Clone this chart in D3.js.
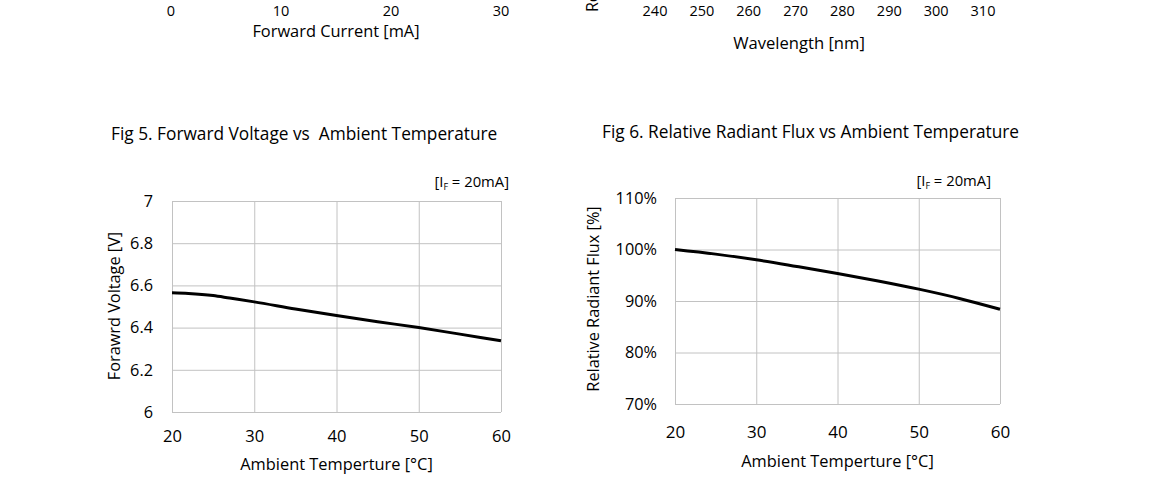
<!DOCTYPE html>
<html>
<head>
<meta charset="utf-8">
<script src="https://cdn.jsdelivr.net/npm/d3@7"></script>
<style>
  body { margin: 0; background: #fff; }
  svg { display: block; font-family: "Open Sans", "Noto Sans", sans-serif; fill: #000; }
  .grid line { stroke: #c2c2c2; stroke-width: 1; }
  .grid .domain { display: none; }
  .tick text { fill: #000; }
</style>
</head>
<body>
<div id="chart"></div>
<script>
// --- data ---
// Fig 5: forward voltage vs ambient temperature
const tempFig5 = [20, 22, 25, 27, 30, 35, 40, 45, 50, 55, 60];
const vfFig5 = [6.565, 6.562, 6.552, 6.54, 6.522, 6.488, 6.457, 6.428, 6.40, 6.369, 6.338];

// Fig 6: relative radiant flux vs ambient temperature
const tempFig6 = [20, 25, 30, 35, 40, 45, 50, 55, 60];
const fluxFig6 = [1.0, 0.991, 0.98, 0.967, 0.9535, 0.939, 0.923, 0.905, 0.884];

// tick labels
const tempTicks = [20, 30, 40, 50, 60];
const vfTicks = [6, 6.2, 6.4, 6.6, 6.8, 7];
const fluxTicks = [0.7, 0.8, 0.9, 1.0, 1.1];

// cut-off axes of the two charts above (only their tick labels are in view)
const currentTicks = [0, 10, 20, 30];
const wavelengthTicks = [240, 250, 260, 270, 280, 290, 300, 310];

const W = 1150, H = 496;

const svg = d3.select("#chart").append("svg")
  .attr("width", W)
  .attr("height", H);

// Helper: one panel with grid, axes, curve and labels
function drawPanel(cfg) {
  const x = d3.scaleLinear().domain(cfg.xDomain).range([cfg.left, cfg.right]);
  const y = d3.scaleLinear().domain(cfg.yDomain).range([cfg.bottom, cfg.top]);
  const g = svg.append("g");

  // vertical grid + x labels
  const xAxis = g.append("g")
    .attr("class", "grid")
    .attr("transform", `translate(0,${cfg.bottom})`)
    .call(d3.axisBottom(x).tickValues(cfg.xTicks)
      .tickSize(-(cfg.bottom - cfg.top)).tickPadding(cfg.xPad))
    .attr("font-family", null);
  xAxis.selectAll("text").style("font-size", cfg.xFont + "px");

  // horizontal grid + y labels
  const yAxis = g.append("g")
    .attr("class", "grid")
    .attr("transform", `translate(${cfg.left},0)`)
    .call(d3.axisLeft(y).tickValues(cfg.yTicks).tickFormat(cfg.yFormat)
      .tickSize(-(cfg.right - cfg.left)).tickPadding(cfg.yPad))
    .attr("font-family", null);
  yAxis.selectAll("text").style("font-size", cfg.yFont + "px");

  // curve
  g.append("path")
    .datum(d3.zip(cfg.xs, cfg.ys))
    .attr("fill", "none")
    .attr("stroke", "#000")
    .attr("stroke-width", 3)
    .attr("d", d3.line()
      .x(d => x(d[0]))
      .y(d => y(d[1]))
      .curve(d3.curveMonotoneX));

  // title
  g.append("text")
    .attr("x", cfg.titleX).attr("y", cfg.titleY)
    .style("font-size", "17.3px")
    .text(cfg.title);

  // condition label [IF = 20mA]
  const cond = g.append("text")
    .attr("x", cfg.condX).attr("y", cfg.condY)
    .attr("text-anchor", "end")
    .style("font-size", "14.8px");
  cond.append("tspan").text("[I");
  cond.append("tspan").attr("dy", 3).style("font-size", "9px").text("F");
  cond.append("tspan").attr("dy", -3).text(" = 20mA]");

  // x title
  g.append("text")
    .attr("x", (cfg.left + cfg.right) / 2).attr("y", cfg.xTitleY)
    .attr("text-anchor", "middle")
    .style("font-size", "16.4px")
    .text(cfg.xTitle);

  // y title
  g.append("text")
    .attr("transform", `translate(${cfg.yTitleX},${cfg.yTitleY}) rotate(-90)`)
    .attr("text-anchor", "middle")
    .style("font-size", "16.3px")
    .text(cfg.yTitle);
}

drawPanel({
  xs: tempFig5, ys: vfFig5,
  xDomain: [20, 60], yDomain: [6, 7],
  left: 172, right: 501, top: 201, bottom: 412,
  xTicks: tempTicks, yTicks: vfTicks,
  yFormat: d => String(+d.toFixed(1)),
  xPad: 18, yPad: 19, xFont: 16.5, yFont: 16.3,
  title: "Fig 5. Forward Voltage vs\u00a0 Ambient Temperature",
  titleX: 111, titleY: 140,
  condX: 509, condY: 187,
  xTitle: "Ambient Temperture [°C]", xTitleY: 470,
  yTitle: "Forawrd Voltage [V]", yTitleX: 120, yTitleY: 306
});

drawPanel({
  xs: tempFig6, ys: fluxFig6,
  xDomain: [20, 60], yDomain: [0.7, 1.1],
  left: 675, right: 1000, top: 198, bottom: 404,
  xTicks: tempTicks, yTicks: fluxTicks,
  yFormat: d3.format(".0%"),
  xPad: 22, yPad: 18, xFont: 17, yFont: 16.3,
  title: "Fig 6. Relative Radiant Flux vs Ambient Temperature",
  titleX: 602, titleY: 138,
  condX: 991, condY: 186,
  xTitle: "Ambient Temperture [°C]", xTitleY: 467,
  yTitle: "Relative Radiant Flux [%]", yTitleX: 599, yTitleY: 299
});

// --- bottom edge of the two charts above (cropped) ---
const xCurrent = d3.scaleLinear().domain([0, 30]).range([171, 501]);
svg.append("g").selectAll("text")
  .data(currentTicks)
  .join("text")
  .attr("x", d => xCurrent(d)).attr("y", 15.5)
  .attr("text-anchor", "middle")
  .style("font-size", "14.5px")
  .text(d => d);
svg.append("text")
  .attr("x", 336).attr("y", 37)
  .attr("text-anchor", "middle")
  .style("font-size", "16.4px")
  .text("Forward Current [mA]");

const xWave = d3.scaleLinear().domain([240, 310]).range([655, 983]);
svg.append("g").selectAll("text")
  .data(wavelengthTicks)
  .join("text")
  .attr("x", d => xWave(d)).attr("y", 15.5)
  .attr("text-anchor", "middle")
  .style("font-size", "14.5px")
  .text(d => d);
svg.append("text")
  .attr("x", 799).attr("y", 49)
  .attr("text-anchor", "middle")
  .style("font-size", "16.6px")
  .text("Wavelength [nm]");
svg.append("text")
  .attr("transform", "translate(598,12) rotate(-90)")
  .style("font-size", "16px")
  .text("Relative Intensity");
</script>
</body>
</html>
